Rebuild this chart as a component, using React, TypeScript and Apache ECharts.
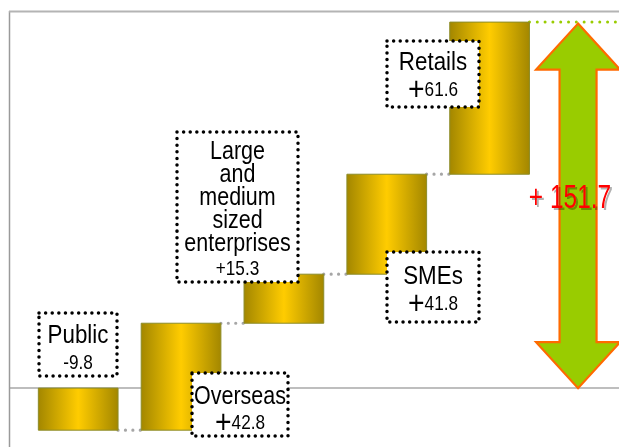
import React, { useEffect, useRef } from "react";
import * as echarts from "echarts";

// ---- data ----
const categories = ["Public", "Overseas", "Large and medium sized enterprises", "SMEs", "Retails"];
const changes = [-9.8, 42.8, 15.3, 41.8, 61.6];
const totalChange = 151.7;
// bar edges as drawn in the picture (the picture is a schematic, not exactly to scale)
const drawnLevels = [0, -17.5, 27.0, 47.4, 89.0, 152.3];
const barPositions = [1, 2, 3, 4, 5];
const arrowPosition = 5.86;

const FONT = "'Liberation Sans Narrow', 'Arial Narrow', 'Liberation Sans', Arial, sans-serif";
const NARROW = 0.86;

function fmt(v: number) {
  return (v > 0 ? "+" : "") + v.toFixed(1);
}

// annotation boxes (layout only)
const boxes = [
  { idx: 0, x: 39, y: 313, w: 78, h: 63, lines: ["Public"], textY: 334, s: 26, valueY: 362, bigPlus: false },
  { idx: 1, x: 192, y: 373, w: 96, h: 63, lines: ["Overseas"], textY: 395, s: 25, valueY: 422, bigPlus: true },
  {
    idx: 2, x: 177, y: 132, w: 121, h: 150,
    lines: ["Large", "and", "medium", "sized", "enterprises"],
    textY: 196, s: 25, valueY: 268, bigPlus: false,
  },
  { idx: 3, x: 387, y: 252, w: 92, h: 70, lines: ["SMEs"], textY: 275, s: 26, valueY: 303, bigPlus: true },
  { idx: 4, x: 387, y: 41, w: 92, h: 66, lines: ["Retails"], textY: 61, s: 26, valueY: 89, bigPlus: true },
];

export default function App() {
  const ref = useRef<HTMLDivElement>(null);

  useEffect(() => {
    if (!ref.current) return;
    const chart = echarts.init(ref.current, undefined, { renderer: "svg" });

    const barData = barPositions.map((x, i) => [
      x,
      Math.min(drawnLevels[i], drawnLevels[i + 1]),
      Math.max(drawnLevels[i], drawnLevels[i + 1]),
    ]);
    const connectorData = barPositions.map((x, i) => [x, drawnLevels[i + 1], i]);

    const barFill = new echarts.graphic.LinearGradient(0, 0, 1, 0, [
      { offset: 0, color: "#A38700" },
      { offset: 0.5, color: "#FFCC00" },
      { offset: 1, color: "#A38700" },
    ]);

    const graphics: any[] = [
      // frame
      { type: "line", z: 1, shape: { x1: 9.5, y1: 11, x2: 9.5, y2: 447 }, style: { stroke: "#9A9A9A", lineWidth: 1.5 } },
      { type: "line", z: 1, shape: { x1: 9, y1: 11.5, x2: 619, y2: 11.5 }, style: { stroke: "#B4B4B4", lineWidth: 2 } },
    ];

    boxes.forEach((b) => {
      graphics.push({
        type: "rect",
        z: 50,
        shape: { x: b.x, y: b.y, width: b.w, height: b.h },
        style: { fill: "#FFFFFF", stroke: "#000000", lineWidth: 3.5, lineDash: [0.01, 6.6], lineCap: "round" },
      });
      const cx = b.x + b.w / 2;
      graphics.push({
        type: "text",
        z: 51,
        x: cx,
        y: b.textY,
        scaleX: NARROW,
        style: {
          text: b.lines.join("\n"),
          font: `${b.s}px ${FONT}`,
          lineHeight: 23,
          fill: "#000",
          textAlign: "center",
          textVerticalAlign: "middle",
        },
      });
      const v = changes[b.idx];
      if (b.bigPlus) {
        graphics.push({
          type: "text",
          z: 51,
          x: cx,
          y: b.valueY,
          scaleX: NARROW,
          style: {
            text: `{p|+}{n|${Math.abs(v).toFixed(1)}}`,
            textAlign: "center",
            textVerticalAlign: "middle",
            rich: {
              p: { fontSize: 33, fontFamily: FONT, fill: "#000", verticalAlign: "middle" },
              n: { fontSize: 20, fontFamily: FONT, fill: "#000", verticalAlign: "middle" },
            },
          },
        });
      } else {
        graphics.push({
          type: "text",
          z: 51,
          x: cx,
          y: b.valueY,
          scaleX: NARROW,
          style: { text: fmt(v), font: `20px ${FONT}`, fill: "#000", textAlign: "center", textVerticalAlign: "middle" },
        });
      }
    });

    graphics.push({
      type: "text",
      z: 60,
      x: 570,
      y: 196,
      scaleX: 0.72,
      style: {
        text: "+ " + totalChange.toFixed(1),
        font: `34px ${FONT}`,
        fill: "#FF0000",
        textAlign: "center",
        textVerticalAlign: "middle",
        textShadowColor: "rgba(0,0,0,0.3)",
        textShadowOffsetX: 2,
        textShadowOffsetY: 2,
        textShadowBlur: 1,
      },
    });

    chart.setOption({
      animation: false,
      grid: { left: 10, right: 0, top: 12, bottom: 0 },
      xAxis: {
        type: "value",
        min: 0.337,
        max: 6.258,
        axisLine: { show: true, onZero: true, lineStyle: { color: "#A8A8A8", width: 1.5 } },
        axisTick: { show: false },
        axisLabel: { show: false },
        splitLine: { show: false },
      },
      yAxis: {
        type: "value",
        min: -24.5,
        max: 156.5,
        axisLine: { show: false },
        axisTick: { show: false },
        axisLabel: { show: false },
        splitLine: { show: false },
      },
      series: [
        {
          type: "custom",
          name: "connectors",
          z: 3,
          data: connectorData,
          renderItem: (params: any, api: any) => {
            const x = api.value(0);
            const lvl = api.value(1);
            const i = api.value(2);
            const w = api.size([1, 0])[0] * 0.775;
            const p = api.coord([x, lvl]);
            const x1 = p[0] + w / 2;
            if (i < barPositions.length - 1) {
              const q = api.coord([barPositions[i + 1], lvl]);
              const x2 = q[0] - w / 2;
              return {
                type: "line",
                shape: { x1: x1, y1: p[1], x2: x2, y2: p[1] },
                style: { stroke: "#A6A6A6", lineWidth: 3.2, lineDash: [0.01, 7.4], lineCap: "round" },
              };
            }
            return {
              type: "line",
              shape: { x1: x1, y1: p[1], x2: 619, y2: p[1] },
              style: { stroke: "#99CC00", lineWidth: 3, lineDash: [0.01, 7.8], lineCap: "round" },
            };
          },
        },
        {
          type: "custom",
          name: "bars",
          z: 4,
          data: barData,
          renderItem: (params: any, api: any) => {
            const x = api.value(0);
            const lo = api.value(1);
            const hi = api.value(2);
            const w = api.size([1, 0])[0] * 0.775;
            const p1 = api.coord([x, hi]);
            const p2 = api.coord([x, lo]);
            return {
              type: "rect",
              shape: { x: p1[0] - w / 2, y: p1[1], width: w, height: p2[1] - p1[1] },
              style: { fill: barFill, stroke: "#8C8C28", lineWidth: 1 },
            };
          },
        },
        {
          type: "custom",
          name: "total",
          z: 5,
          data: [[arrowPosition, 0, totalChange]],
          renderItem: (params: any, api: any) => {
            const x = api.value(0);
            const top = api.coord([x, api.value(2)]);
            const bot = api.coord([x, api.value(1)]);
            const cx = top[0];
            const hw = 42;
            const sw = 18.5;
            const hl = 46;
            const points = [
              [cx, top[1]],
              [cx + hw, top[1] + hl],
              [cx + sw, top[1] + hl],
              [cx + sw, bot[1] - hl],
              [cx + hw, bot[1] - hl],
              [cx, bot[1]],
              [cx - hw, bot[1] - hl],
              [cx - sw, bot[1] - hl],
              [cx - sw, top[1] + hl],
              [cx - hw, top[1] + hl],
            ];
            return {
              type: "polygon",
              shape: { points },
              style: { fill: "#99CC00", stroke: "#FF6A00", lineWidth: 2.2, lineJoin: "miter" },
            };
          },
        },
      ],
      graphic: graphics,
    });

    return () => chart.dispose();
  }, []);

  return <div ref={ref} style={{ position: "fixed", left: 0, top: 0, width: 619, height: 447 }} />;
}
